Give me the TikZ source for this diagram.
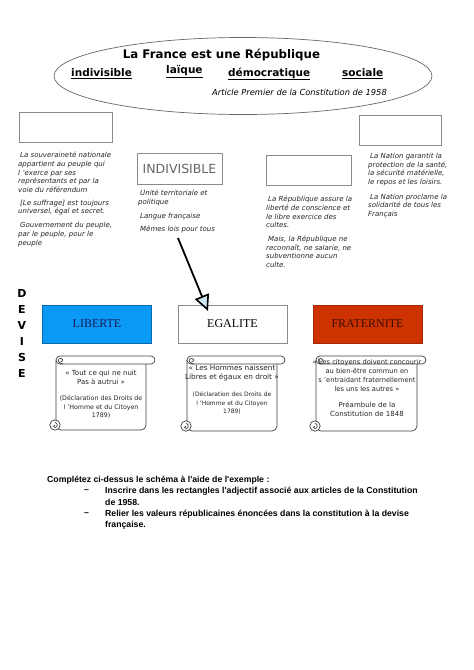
\documentclass[tikz,border=0pt]{standalone}
\usepackage{fontspec}
\setmainfont{DejaVu Sans}
\newfontfamily\libsans{Liberation Sans}
\newfontfamily\libserif{Liberation Serif}
\usetikzlibrary{arrows.meta,shapes.geometric}
\definecolor{libblue}{HTML}{0A99F5}
\definecolor{libtext}{HTML}{1C1C5A}
\definecolor{fratred}{HTML}{CC3300}
\definecolor{frattext}{HTML}{3D0D00}
\definecolor{boxgray}{HTML}{8A8A8A}
\definecolor{arrowfill}{HTML}{CFE4F2}
\newcommand\myscroll[5]{%
  \draw[scrollline,fill=white,rounded corners=5] (#1,{#4+4}) -- (#1,#5) -- (#2,#5) -- (#2,{#4+4});
  \draw[scrollline,fill=white,rounded corners=4] (#1,#4) rectangle (#3,{#4+8});
  \draw[scrollline] ({#1+7},{#4+8}) .. controls ({#1+1},{#4+8}) and ({#1+1},{#4+1.5}) .. ({#1+5},{#4+2.5}) .. controls ({#1+8},{#4+3.5}) and ({#1+7},{#4+6}) .. ({#1+4.5},{#4+6});
  \draw[scrollline,fill=white] ({#1-1},{#5-5}) circle (5.2);
  \draw[scrollline] ({#1-1},{#5-7.5}) .. controls ({#1+2},{#5-7.5}) and ({#1+2},{#5-2.5}) .. ({#1-1},{#5-2.5}) .. controls ({#1-3},{#5-2.5}) and ({#1-3},{#5-5}) .. ({#1-1},{#5-5});
}
\begin{document}
\begin{tikzpicture}[x=1pt,y=-1pt,
  scrollline/.style={draw=black!75,line width=0.7pt},
  colbox/.style={draw=boxgray,line width=0.7pt,inner sep=0pt},
  itxt/.style={anchor=north west,inner sep=0pt,align=left,font=\fontsize{7}{8.6}\selectfont\itshape,text=black!85},
  stxt/.style={inner sep=0pt,align=center,text=black!85},
  utxt/.style={anchor=west,inner sep=0pt,font=\fontsize{10.5}{12}\selectfont\bfseries},
  btxt/.style={anchor=west,inner sep=0pt,font=\libsans\fontsize{8.7}{10}\selectfont\bfseries},
  devbox/.style={minimum width=109pt,minimum height=38pt,inner sep=0pt,font=\libserif\fontsize{12}{14}\selectfont}]
\useasboundingbox (0,0) rectangle (474,670);
\fill[white] (0,0) rectangle (474,670);

% ellipse
\node[ellipse,draw=black!60,line width=0.7pt,minimum width=378pt,minimum height=77pt,inner sep=0pt] (ell) at (243,76) {};
\node[inner sep=0pt,font=\fontsize{11.8}{13}\selectfont\bfseries] (title) at (221.5,55) {La France est une République};
\node[utxt] (u1) at (71,74) {\underline{indivisible}};
\node[utxt] (u2) at (166,72) {\underline{laïque}};
\node[utxt] (u3) at (228,74) {\underline{démocratique}};
\node[utxt] (u4) at (342,74) {\underline{sociale}};
\node[inner sep=0pt,anchor=west,font=\fontsize{8.3}{10}\selectfont\itshape] (art) at (212,92) {Article Premier de la Constitution de 1958};

% adjective boxes
\node[colbox,minimum width=93pt,minimum height=30pt] (b1) at (65.5,127) {};
\node[colbox,minimum width=85pt,minimum height=31pt,font=\fontsize{12.5}{14}\selectfont,text=black!60] (b2) at (179.5,168.5) {INDIVISIBLE};
\node[colbox,minimum width=85pt,minimum height=30pt] (b3) at (308.5,170) {};
\node[colbox,minimum width=82pt,minimum height=30pt] (b4) at (400,130) {};

% column texts
\node[itxt] (t1) at (18,152) {\hspace{2pt}La souveraineté nationale\\appartient au peuple qui\\l ’exerce par ses\\représentants et par la\\voie du référendum\\[4.5pt]\hspace{2pt}[Le suffrage] est toujours\\universel, égal et secret.\\[5.4pt]\hspace{2pt}Gouvernement du peuple,\\par le peuple, pour le\\peuple};
\node[itxt] (t2) at (138,190) {\hspace{2pt}Unité territoriale et\\politique\\[5.4pt]\hspace{2pt}Langue française\\[4.4pt]\hspace{2pt}Mêmes lois pour tous};
\node[itxt] (t3) at (266,196) {\hspace{2pt}La République assure la\\liberté de conscience et\\le libre exercice des\\cultes.\\[5.4pt]\hspace{2pt}Mais, la République ne\\reconnaît, ne salarie, ne\\subventionne aucun\\culte.};
\node[itxt] (t4) at (368,153) {\hspace{2pt}La Nation garantit la\\protection de la santé,\\la sécurité matérielle,\\le repos et les loisirs.\\[6.4pt]\hspace{2pt}La Nation proclame la\\solidarité de tous les\\Français};

% DEVISE
\node[inner sep=0pt,align=center,font=\fontsize{11}{16}\selectfont\bfseries] (dev) at (22,333) {D\\E\\V\\I\\S\\E};

% devise boxes
\node[devbox,draw=libblue!70!black,fill=libblue,text=libtext] (lib) at (97,324) {LIBERTE};
\node[devbox,draw=boxgray,fill=white,text=black] (ega) at (232.5,324) {EGALITE};
\node[devbox,draw=fratred!80!black,fill=fratred,text=frattext] (fra) at (367.5,324) {FRATERNITE};

% arrow
\coordinate (as) at (178,238);
\coordinate (ae) at (208,311);
\draw[line width=1.8pt,-{Triangle[length=16pt,width=15pt,fill=arrowfill,line width=1.6pt]}] (as) -- (ae);

% scrolls
\myscroll{56}{146}{155}{356}{430}
\myscroll{187}{277}{285}{356}{431}
\myscroll{316}{417}{426}{356}{431}

\node[stxt,font=\fontsize{7}{9}\selectfont] (s1a) at (101,377.5) {« Tout ce qui ne nuit\\Pas à autrui »};
\node[stxt,font=\fontsize{6.3}{8.2}\selectfont] (s1b) at (101,407) {(Déclaration des Droits de\\l ’Homme et du Citoyen\\1789)};
\node[stxt,font=\fontsize{7.3}{9.5}\selectfont] (s2a) at (232,373) {« Les Hommes naissent\\Libres et égaux en droit »};
\node[stxt,font=\fontsize{6}{8.3}\selectfont] (s2b) at (232,403) {(Déclaration des Droits de\\l ’Homme et du Citoyen\\1789)};
\node[stxt,font=\fontsize{6.7}{9}\selectfont] (s3a) at (367,375.5) {« Les citoyens doivent concourir\\au bien-être commun en\\s ’entraidant fraternellement\\les uns les autres »};
\node[stxt,font=\fontsize{7}{9}\selectfont] (s3b) at (367,409.5) {Préambule de la\\Constitution de 1848};

% instructions
\node[btxt] (i0) at (47,480) {Complétez ci-dessus le schéma à l'aide de l'exemple :};
\node[btxt] (d1) at (84,491) {–};
\node[btxt] (i1) at (105,491) {Inscrire dans les rectangles l'adjectif associé aux articles de la Constitution};
\node[btxt] (i2) at (105,502) {de 1958.};
\node[btxt] (d2) at (84,514) {–};
\node[btxt] (i3) at (105,514) {Relier les valeurs républicaines énoncées dans la constitution à la devise};
\node[btxt] (i4) at (105,525) {française.};
\end{tikzpicture}
\end{document}
